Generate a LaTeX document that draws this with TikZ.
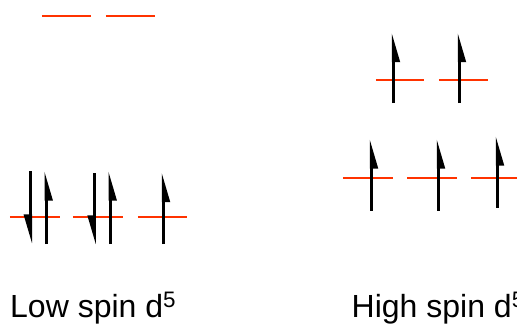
\documentclass[tikz,border=0pt]{standalone}
\usepackage{fontspec}
\setmainfont{Liberation Sans}
\usetikzlibrary{arrows.meta}
\definecolor{levelred}{RGB}{255,51,0}
\begin{document}
\begin{tikzpicture}[
    x=1pt,y=-1pt,
    level/.style={minimum width=49pt,minimum height=0pt,inner sep=0pt},
    levelline/.style={draw=levelred,line width=2pt},
    spin/.style={-{Triangle[harpoon,swap,length=24pt,width=13pt]},line width=3pt},
    spintext/.style={anchor=base west,inner sep=0pt,font=\fontsize{32}{38}\selectfont}
  ]
    \useasboundingbox (0,0) rectangle (517,324);
    % low spin
    \node[level] (lt1) at (66.5,16) {};
    \node[level] (lt2) at (130.5,16) {};
    \node[level,minimum width=50pt] (ls1) at (35,216.5) {};
    \node[level,minimum width=50pt] (ls2) at (98,216.5) {};
    \node[level] (ls3) at (162.5,216.5) {};
    % high spin
    \node[level,minimum width=48pt] (ht1) at (400,80.3) {};
    \node[level] (ht2) at (463.5,80.3) {};
    \node[level,minimum width=50pt] (hs1) at (368,178) {};
    \node[level] (hs2) at (432,178) {};
    \node[level] (hs3) at (495.5,178) {};
    \foreach \lvl in {lt1,lt2,ls1,ls2,ls3,ht1,ht2,hs1,hs2,hs3}
      \draw[levelline] (\lvl.west) -- (\lvl.east);
    \draw[spin] (ls1) ++(-4.5,-45.5) -- ++(0,73);
    \draw[spin] (ls1) ++(11,27.5) -- ++(0,-73);
    \draw[spin] (ls2) ++(-3.7,-43.5) -- ++(0,72);
    \draw[spin] (ls2) ++(12,27.5) -- ++(0,-73);
    \draw[spin] (ls3) ++(0.8,27.5) -- ++(0,-71.5);
    \draw[spin] (ht1) ++(-6.7,22.7) -- ++(0,-70.3);
    \draw[spin] (ht2) ++(-4.2,22.7) -- ++(0,-70.3);
    \draw[spin] (hs1) ++(3.3,32.7) -- ++(0,-71.7);
    \draw[spin] (hs2) ++(6.3,32.7) -- ++(0,-71.7);
    \draw[spin] (hs3) ++(1.8,29.7) -- ++(0,-71.7);
    \node[spintext] (lowname) at (10,317) {Low spin d\textsuperscript{5}};
    \node[spintext] (highname) at (351.5,317) {High spin d\textsuperscript{5}};
  \end{tikzpicture}
\end{document}
